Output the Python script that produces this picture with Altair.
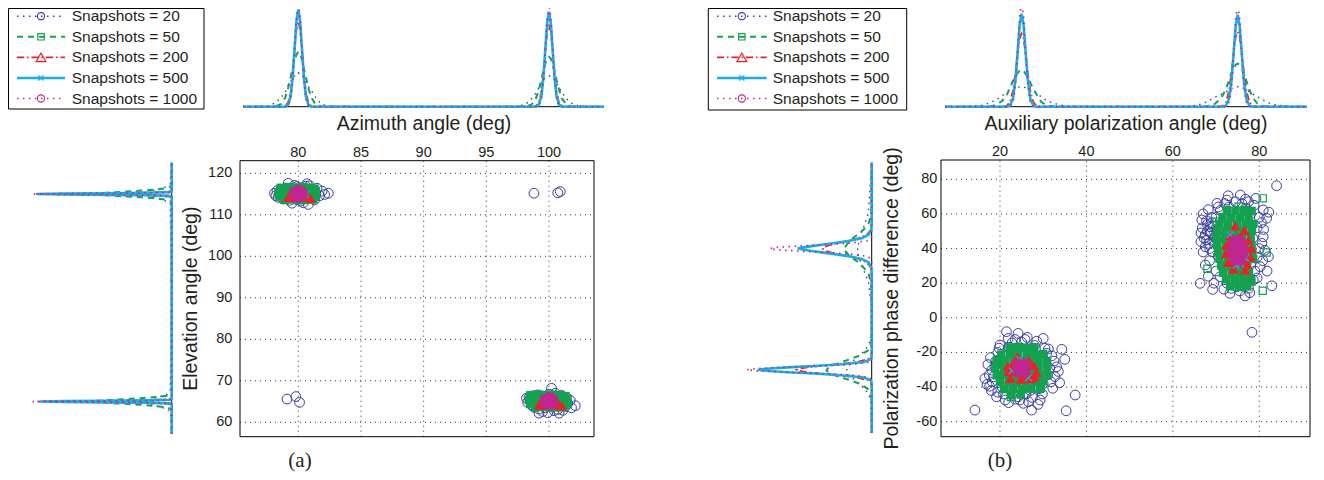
import altair as alt
import pandas as pd

# ---------------------------------------------------------------- data
SERIES = ["Snapshots = 20", "Snapshots = 50", "Snapshots = 200",
          "Snapshots = 500", "Snapshots = 1000"]

# (a) top marginal: azimuth angle grid and curve values (20, 50, 200, 500, 1000)
AZ_GRID = [75.59,
           77.6, 78.2, 78.6, 78.95, 79.2, 79.4, 79.55, 79.7, 79.85, 80.0,
           80.15, 80.3, 80.45, 80.6, 80.8, 81.05, 81.4, 81.8, 82.4,
           90.0,
           97.6, 98.2, 98.6, 98.95, 99.2, 99.4, 99.55, 99.7, 99.85, 100.0,
           100.15, 100.3, 100.45, 100.6, 100.8, 101.05, 101.4, 101.8, 102.4,
           104.39]
AZ_D20 = [0, 0.8, 4, 9, 14, 22, 25, 30, 30.5, 33, 34, 32, 31.5, 28, 26, 20, 16, 9, 3, 0.5,
          0, 0.5, 3, 8, 13.5, 19, 23, 27, 28.5, 30, 31, 30.5, 29, 27, 24, 19.5, 14, 8, 3.5, 0.7, 0]
AZ_D50 = [0, 0, 0.4, 2.5, 9, 19, 30, 39, 46, 52, 55, 53, 47, 38, 30, 19, 9, 2, 0.4, 0,
          0, 0, 0.4, 2, 8, 17, 27, 36, 43, 48, 50, 48, 42, 35, 27, 17, 8, 2, 0.4, 0, 0]
AZ_D200 = [0, 0, 0, 0, 0.5, 4.5, 16, 34, 56, 77, 85, 77, 56, 34, 16, 4.5, 0.5, 0, 0, 0,
           0, 0, 0, 0, 0.5, 4, 15, 32, 54, 74, 82, 74, 54, 32, 15, 4, 0.5, 0, 0, 0, 0]
AZ_D500 = [0, 0, 0, 0, 0.1, 2, 11, 29, 57, 85, 97, 85, 57, 29, 11, 2, 0.1, 0, 0, 0,
           0, 0, 0, 0, 0.1, 2, 11, 28, 56, 83, 95, 83, 56, 28, 11, 2, 0.1, 0, 0, 0, 0]
AZ_D1000 = [0, 0, 0, 0, 0, 1, 9, 26, 56, 89, 104, 89, 56, 26, 9, 1, 0, 0, 0, 0,
            0, 0, 0, 0, 0, 1, 9, 26, 55, 88, 105, 88, 55, 26, 9, 1, 0, 0, 0, 0, 0]

# (a) left marginal: elevation angle grid and curve values
EL_GRID = [57.18,
           62.6, 63.2, 63.6, 63.9, 64.2, 64.4, 64.55, 64.7, 64.8, 64.9, 65.0,
           65.1, 65.2, 65.3, 65.45, 65.6, 65.8, 66.1, 66.4, 66.8, 67.4,
           90.0,
           112.6, 113.2, 113.6, 113.9, 114.2, 114.4, 114.55, 114.7, 114.8, 114.9, 115.0,
           115.1, 115.2, 115.3, 115.45, 115.6, 115.8, 116.1, 116.4, 116.8, 117.4,
           122.55]
EL_D20 = [0, 1.2, 5.5, 10, 15, 20, 22, 23, 25, 25.5, 26, 26.5, 26, 25, 24, 23, 21, 18, 13, 9, 4.5, 1.5,
          0, 1.5, 4.5, 9, 13.5, 18.5, 21, 23.5, 24.5, 25, 25.5, 26, 26, 25.5, 25, 23.5, 22, 19.5, 14.5, 10, 5, 1.6, 0]
EL_D50 = [0, 0, 0.8, 5.5, 15, 31, 44, 56, 65, 70, 74, 75, 74, 71, 66, 58, 46, 31, 14, 5, 0.8, 0,
          0, 0, 0.8, 5, 14, 30, 45, 57, 66, 71, 74, 76, 74, 70, 65, 57, 45, 32, 15, 5.5, 0.9, 0, 0]
EL_D200 = [0, 0, 0, 0, 0, 0.2, 2.6, 13.5, 43, 73, 99, 110, 99, 73, 43, 13.5, 2.6, 0.2, 0, 0, 0, 0,
           0, 0, 0, 0, 0, 0.2, 2.6, 13.5, 43, 73, 99, 110, 99, 73, 43, 13.5, 2.6, 0.2, 0, 0, 0, 0, 0]
EL_D500 = [0, 0, 0, 0, 0, 0, 0.1, 2.4, 22, 60, 108, 132, 108, 60, 22, 2.4, 0.1, 0, 0, 0, 0, 0,
           0, 0, 0, 0, 0, 0, 0.1, 2.5, 23, 62, 111, 135, 111, 62, 23, 2.5, 0.1, 0, 0, 0, 0, 0, 0]
EL_D1000 = [0, 0, 0, 0, 0, 0, 0, 0.4, 10, 43, 103, 139, 103, 43, 10, 0.4, 0, 0, 0, 0, 0, 0,
            0, 0, 0, 0, 0, 0, 0, 0.4, 10, 43, 103, 139, 103, 43, 10, 0.4, 0, 0, 0, 0, 0, 0, 0]

# (b) top marginal: auxiliary polarization angle grid and curve values
AUX_GRID = [7.27,
            13, 16, 18, 19.5, 20.5, 21.5, 22.3, 23, 23.6, 24.1, 24.55, 25,
            25.45, 25.9, 26.4, 27, 27.7, 28.5, 29.5, 30.5, 32, 34, 37,
            50,
            63, 66, 68, 69.5, 70.5, 71.5, 72.3, 73, 73.6, 74.1, 74.55, 75,
            75.45, 75.9, 76.4, 77, 77.7, 78.5, 79.5, 80.5, 82, 84, 87,
            90.97]
AUX_D20 = [0, 0.2, 1.5, 4.5, 8, 11, 14, 16, 17, 19, 19, 20, 20, 19.5, 19, 18, 17, 16, 13, 10, 7, 4, 1.5, 0.2,
           0, 0.2, 1.8, 5, 9, 11, 13, 15, 17, 18, 19, 19.5, 20, 20, 19, 18.5, 17, 15, 12.5, 10, 7.5, 4, 1.5, 0.2, 0]
AUX_D50 = [0, 0, 0, 0.4, 2.5, 6, 11, 19, 26, 30, 34, 36, 37, 36, 33, 30, 24, 18, 12, 5, 2, 0.4, 0, 0,
           0, 0, 0, 0.5, 2, 6, 11, 18, 26, 34, 39, 42, 43, 42, 39, 34, 26, 17, 9, 3.4, 1, 0, 0, 0, 0]
AUX_D200 = [0, 0, 0, 0, 0, 0, 0.7, 4.6, 16, 35, 54, 68, 73, 68, 54, 35, 16, 4.6, 0.7, 0, 0, 0, 0, 0,
            0, 0, 0, 0, 0, 0, 0.7, 4.7, 16, 36, 55, 70, 75, 70, 55, 36, 16, 4.7, 0.7, 0, 0, 0, 0, 0, 0]
AUX_D500 = [0, 0, 0, 0, 0, 0, 0, 1, 8, 28, 56, 82, 93, 82, 56, 28, 8, 1, 0, 0, 0, 0, 0, 0,
            0, 0, 0, 0, 0, 0, 0, 1, 8, 27, 56, 81, 92, 81, 56, 27, 8, 1, 0, 0, 0, 0, 0, 0, 0]
AUX_D1000 = [0, 0, 0, 0, 0, 0, 0, 0.3, 4.6, 23, 56, 90, 105, 90, 56, 23, 4.6, 0.3, 0, 0, 0, 0, 0, 0,
             0, 0, 0, 0, 0, 0, 0, 0.3, 4.5, 22, 55, 88, 103, 88, 55, 22, 4.5, 0.3, 0, 0, 0, 0, 0, 0, 0]

# (b) left marginal: polarization phase difference grid and curve values
PH_GRID = [-66.53,
           -50, -45, -41, -38, -36, -34.5, -33.2, -32.2, -31.4, -30.7, -30,
           -29.3, -28.6, -27.8, -26.8, -25.5, -24, -22, -19, -15, -10,
           5,
           20, 25, 29, 32, 34, 35.5, 36.8, 37.8, 38.6, 39.3, 40,
           40.7, 41.4, 42.2, 43.2, 44.5, 46, 48, 51, 55, 60,
           89.59]
PH_D20 = [0, 0.4, 2.5, 7, 13, 17, 20, 22.5, 24, 24.5, 25, 25, 25, 24, 23.5, 22, 20, 17, 13, 7, 2.5, 0.4,
          0, 3, 6, 9.5, 11, 12, 13, 13.5, 14, 13.5, 14, 14, 13.5, 14, 13.5, 13, 13, 12, 11.5, 9, 6.5, 3.5, 0]
PH_D50 = [0, 0, 0.5, 4, 12.5, 22, 30, 37, 41, 43, 45, 45, 44, 43, 40, 36, 30, 22, 13, 4, 0.5, 0,
          0, 0.5, 3, 8, 13, 18, 21, 24, 25, 27, 26, 27, 27, 26, 25, 24, 22, 19, 14, 8, 2.7, 0.5, 0]
PH_D200 = [0, 0, 0, 0, 0.5, 4, 15, 33, 51, 64, 72, 75, 72, 64, 51, 33, 15, 4, 0.5, 0, 0, 0,
           0, 0, 0, 0.6, 5, 13, 23, 34, 41, 46, 48, 49, 48, 45, 41, 33, 23, 13, 4.8, 0.6, 0, 0, 0]
PH_D500 = [0, 0, 0, 0, 0, 1, 8, 30, 58, 84, 102, 114, 102, 84, 58, 30, 8, 1, 0, 0, 0, 0,
           0, 0, 0, 0.5, 3, 10, 22, 37, 50, 60, 68, 74, 68, 60, 50, 37, 22, 10, 3, 0.5, 0, 0, 0]
PH_D1000 = [0, 0, 0, 0, 0, 0, 2.4, 17, 49, 85, 114, 125, 114, 85, 49, 17, 2.4, 0, 0, 0, 0, 0,
            0, 0, 0, 0, 0, 0.4, 4.5, 21, 48, 75, 95, 102, 95, 75, 48, 21, 4.5, 0.4, 0, 0, 0, 0, 0]

# (a) scatter: (azimuth, elevation) estimates
A_BLUE = [(78.1, 115.2), (78.2, 114.6), (78.3, 115.8), (78.4, 114.2), (78.5, 115.4), (78.6, 116.0),
          (78.7, 114.8), (78.8, 113.8), (78.9, 115.6), (79.0, 116.4), (79.1, 114.3), (79.2, 115.0),
          (79.3, 113.5), (79.4, 116.2), (79.5, 114.7), (79.6, 115.9), (79.8, 113.7), (79.9, 116.8),
          (80.0, 114.3), (80.1, 115.7), (80.2, 113.3), (80.3, 116.5), (80.5, 114.9), (80.6, 116.9),
          (80.7, 113.9), (80.8, 115.5), (80.9, 117.0), (81.0, 114.4), (81.1, 116.1), (81.3, 113.6),
          (81.4, 115.1), (81.5, 116.4), (81.7, 114.6), (81.9, 115.7), (82.1, 114.9), (82.4, 115.2),
          (80.4, 112.9), (79.7, 117.1), (79.2, 117.6), (80.7, 117.5), (80.8, 112.5), (79.5, 112.8),
          (98.8, 115.2), (100.7, 115.3), (100.9, 115.6),
          (79.1, 65.6), (79.8, 66.2), (80.1, 64.8),
          (98.2, 65.8), (98.3, 64.8), (98.4, 66.0), (98.5, 65.2), (98.6, 64.2), (98.7, 66.4),
          (98.8, 63.6), (98.9, 65.5), (99.0, 64.6), (99.1, 66.6), (99.2, 63.2), (99.3, 65.9),
          (99.4, 64.0), (99.5, 62.6), (99.6, 66.2), (99.7, 63.5), (99.8, 65.0), (99.9, 62.3),
          (100.0, 66.8), (100.2, 68.2), (100.2, 63.7), (100.3, 65.8), (100.4, 62.8), (100.5, 64.4),
          (100.6, 66.3), (100.7, 63.1), (100.8, 65.4), (100.9, 64.1), (101.0, 66.5), (101.1, 62.9),
          (101.2, 65.1), (101.3, 63.8), (101.4, 66.0), (101.5, 64.5), (101.7, 65.3), (101.8, 63.5),
          (102.1, 64.0), (99.2, 62.2), (100.8, 62.2), (100.5, 67.0)]
A_GREEN = [(78.6, 116.5), (79.2, 116.7), (79.8, 116.6), (80.4, 116.7), (81.0, 116.5), (81.3, 116.3),
           (78.4, 115.4), (79.0, 115.6), (79.6, 115.5), (80.2, 115.4), (80.8, 115.6), (81.4, 115.5),
           (78.5, 114.4), (79.1, 114.3), (79.7, 114.5), (80.3, 114.4), (80.9, 114.3), (81.4, 114.5),
           (78.9, 113.6), (79.5, 113.7), (80.1, 113.5), (80.7, 113.6), (81.2, 113.7),
           (98.5, 66.5), (99.1, 66.7), (99.7, 66.6), (100.3, 66.7), (100.9, 66.5), (101.3, 66.3),
           (98.4, 65.4), (99.0, 65.6), (99.6, 65.5), (100.2, 65.4), (100.8, 65.6), (101.4, 65.5),
           (98.5, 64.4), (99.1, 64.3), (99.7, 64.5), (100.3, 64.4), (100.9, 64.3), (101.5, 64.5),
           (98.9, 63.6), (99.5, 63.7), (100.1, 63.5), (100.7, 63.6), (101.2, 63.7)]
A_RED = [(79.9, 116.3), (80.3, 116.2), (79.4, 115.2), (80.0, 115.3), (80.6, 115.1), (79.2, 114.2),
         (79.8, 114.1), (80.4, 114.2), (81.0, 114.0),
         (99.9, 66.3), (100.3, 66.2), (99.4, 65.2), (100.0, 65.3), (100.6, 65.1), (99.2, 64.2),
         (99.8, 64.1), (100.4, 64.2), (101.0, 64.0)]
A_CYAN = [(80.1, 114.4), (80.6, 115.0), (100.2, 64.4), (99.6, 65.1)]
A_MAG = [(79.65, 115.6), (80.35, 115.6), (79.65, 114.5), (80.35, 114.5), (80.0, 115.0), (80.0, 116.1),
         (80.0, 114.0),
         (99.65, 65.6), (100.35, 65.6), (99.65, 64.5), (100.35, 64.5), (100.0, 65.0), (100.0, 66.1),
         (100.0, 64.0)]

# (b) scatter: (auxiliary polarization angle, polarization phase difference) estimates
B_BLUE = [(14.2, -53.3), (17.0, -38.5), (17.6, -39.5), (19.2, -45.6), (21.2, -47.5), (18.1, -30.2),
          (20.0, -15.7), (21.5, -8.0), (24.2, -9.0), (26.3, -11.3), (30.0, -11.9), (30.4, -17.6),
          (30.8, -20.5), (34.3, -18.2), (33.1, -28.3), (32.7, -34.0), (32.2, -40.7), (29.3, -47.5),
          (27.3, -53.3), (25.4, -49.4), (24.2, -45.6), (37.4, -44.6), (35.3, -53.7), (21.9, -11.9),
          (24.6, -47.5), (26.6, -48.5), (19.0, -25), (18.5, -34), (19.5, -20), (20.5, -40), (22, -17),
          (23, -43), (25, -14), (26, -44), (28, -16), (29, -41), (30.5, -25), (31, -33), (31.5, -29),
          (20, -30), (27.5, -20), (22.5, -38), (29, -36), (21, -22), (24, -18), (27, -42), (18.8, -28),
          (30, -38), (32, -22), (23.5, -12.5), (28.5, -13.5), (26.5, -39), (19.5, -43), (17.5, -33),
          (17.8, -23), (18.2, -37), (19.8, -17.5), (20.8, -44), (22.8, -14.5), (25.8, -12.5),
          (27.5, -46), (29.8, -44), (31.8, -37), (32.5, -25), (31.2, -18), (33.5, -31), (16.5, -35),
          (18.0, -42), (22.0, -49), (28.8, -50), (23.5, -47), (33.8, -37.5), (17.2, -27), (35.0, -24),
          (84.0, 76.3), (75.6, 70.9), (72.5, 68.0), (66.7, 56.5), (66.3, 19.9), (69.2, 16.4),
          (73.2, 14.1), (76.7, 12.6), (78.3, -8.4), (82.9, 18.5), (81.7, 57.5), (80.9, 62.3),
          (77.5, 67.1), (70.2, 66.1), (82.1, 35.3), (80.2, 29.5), (80.9, 46.8), (67.5, 30.5),
          (67.8, 45.0), (68.6, 52.6), (70.9, 23.7), (74.8, 18.0), (78.6, 21.8),
          (68, 50), (69, 55), (67.5, 48), (69.5, 44), (70, 58), (68.5, 40), (70.5, 36), (71, 62),
          (72, 26), (73, 64), (74, 21), (76, 24), (77, 63), (78, 60), (79, 27), (79.5, 52), (80, 40),
          (79.5, 35), (71.5, 32), (70.2, 48), (72.5, 57), (78.5, 46), (73.5, 17), (77.5, 17), (76, 66),
          (74, 61), (80.5, 55), (71, 42), (69.2, 38), (78, 31), (75, 20), (76.5, 59),
          (66.8, 52), (67.2, 46), (67.8, 56), (68.3, 43), (68.8, 49), (69.3, 53), (69.8, 46),
          (70.3, 51), (67.5, 41), (68, 54), (69, 58), (66.5, 49), (70.8, 43), (71.5, 55), (71, 48),
          (67, 60), (68.2, 62.5), (70.5, 64), (72, 66), (74.5, 67), (76.8, 68.5), (78.8, 65),
          (80, 58), (81, 51), (80.6, 43), (81.3, 39), (80.8, 33), (79.5, 23), (77, 20), (72.5, 20),
          (70, 27), (68.5, 33), (67, 38), (66.5, 44), (72.8, 70.5), (79.2, 69), (82.2, 61),
          (69.5, 20), (77.8, 14.5), (81.8, 27), (68.2, 24), (75.5, 15.5), (71.8, 16.5)]
B_GREEN_OUT = [(80.8, 69.0), (81.7, 37.7), (80.8, 15.6), (68.0, 28.3), (70.1, 55.5), (75.2, 64.2),
               (77.1, 61.3), (78.2, 20.9), (29.5, -40.5), (22.5, -45.8), (19.5, -24.0), (30.5, -27.0)]
B_GREEN = [(22.2, -17.2), (24.1, -16.8), (26.0, -17.4), (27.9, -17.0),
           (20.3, -21.3), (22.3, -20.8), (24.2, -21.1), (26.2, -20.7), (28.1, -21.4), (30.0, -20.9),
           (19.2, -25.2), (21.1, -24.7), (23.1, -25.3), (25.0, -24.9), (27.0, -25.1), (28.9, -24.6), (30.9, -25.4),
           (18.9, -29.1), (20.9, -28.8), (22.9, -29.3), (24.9, -28.9), (26.9, -29.2), (28.8, -28.7), (30.8, -29.4),
           (19.3, -33.2), (21.2, -32.7), (23.2, -33.3), (25.2, -32.9), (27.2, -33.1), (29.1, -32.8), (31.0, -33.3),
           (20.0, -37.1), (22.0, -36.8), (24.0, -37.3), (26.0, -36.9), (28.0, -37.2), (30.0, -36.7),
           (21.0, -41.2), (23.0, -40.8), (25.0, -41.3), (27.0, -40.9), (29.2, -41.1),
           (22.6, -44.6), (24.8, -44.3),
           (72.5, 62.2), (74.5, 61.8), (76.5, 62.3), (78.2, 61.7),
           (71.5, 58.1), (73.5, 57.8), (75.5, 58.3), (77.5, 57.9),
           (70.8, 54.2), (72.8, 53.8), (74.8, 54.1), (76.8, 53.7), (78.6, 54.3),
           (70.3, 50.1), (72.3, 49.8), (74.3, 50.3), (76.3, 49.9), (78.3, 50.2),
           (70.0, 46.2), (72.0, 45.7), (74.0, 46.1), (76.0, 45.8), (78.0, 46.3),
           (70.2, 42.1), (72.2, 41.8), (74.2, 42.2), (76.2, 41.7), (78.2, 42.0),
           (70.5, 38.2), (72.5, 37.7), (74.5, 38.1), (76.5, 37.8), (78.4, 38.3),
           (70.8, 34.1), (72.8, 33.8), (74.8, 34.3), (76.8, 33.9), (78.6, 34.0),
           (71.2, 30.2), (73.2, 29.8), (75.2, 30.1), (77.2, 29.7),
           (71.6, 26.1), (73.6, 25.8), (75.6, 26.3), (77.6, 25.9),
           (72.3, 22.2), (74.3, 21.8), (76.3, 22.1), (78.0, 21.7),
           (73.3, 18.2), (75.3, 17.8), (77.2, 18.1)]
B_RED = [(24.0, -22.5), (26.6, -24.5), (23.0, -26.5), (25.3, -27.0), (27.8, -27.5), (22.0, -31.0),
         (24.3, -31.5), (26.3, -31.0), (28.4, -31.5), (22.4, -35.0), (24.8, -35.5), (27.2, -35.2),
         (25.5, -33.5), (23.5, -29.5), (21.8, -28.0), (28.0, -34.0),
         (74.4, 53.0), (76.6, 50.5), (73.3, 47.5), (75.2, 46.5), (77.5, 45.0), (72.4, 42.0),
         (74.6, 42.0), (76.6, 41.5), (78.2, 40.0), (72.3, 37.0), (74.4, 37.0), (76.4, 36.5),
         (78.0, 35.0), (72.8, 32.0), (75.0, 31.5), (77.2, 31.0), (74.0, 28.0), (76.7, 27.5),
         (73.5, 44.5), (75.5, 34.0)]
B_CYAN = [(24.5, -24.0), (26.6, -34.6), (22.8, -30.5), (75.7, 31.0), (74.6, 30.3), (76.8, 34.5),
          (73.2, 48.0)]
B_MAG = [(24.2, -26.5), (25.8, -26.5), (23.9, -29.2), (25.0, -29.2), (26.1, -29.2), (24.2, -31.8),
         (25.8, -31.8), (25.0, -27.5), (25.0, -31.0),
         (74.3, 44.8), (75.7, 44.8), (73.7, 41.0), (75.0, 41.0), (76.3, 41.0), (73.7, 37.0),
         (75.0, 37.0), (76.3, 37.0), (74.3, 33.0), (75.7, 33.0), (75.0, 43.0), (75.0, 35.0)]

A_XTICKS = [80, 85, 90, 95, 100]
A_YTICKS = [60, 70, 80, 90, 100, 110, 120]
B_XTICKS = [20, 40, 60, 80]
B_YTICKS = [-60, -40, -20, 0, 20, 40, 60, 80]

# ---------------------------------------------------------------- style
COLORS = ["#3a3d9f", "#13a24f", "#ec2128", "#1aaee6", "#c0268f"]
DASHES = [[1.5, 4.5], [6, 5], [7, 3, 1.5, 3], None, [1.5, 4.5]]
WIDTHS = [1.4, 2.0, 1.8, 2.6, 1.7]
XPATH = "M-1,-1L1,1M-1,1L1,-1"
FONT = "Liberation Sans"
TXT = "#231f20"


def qs(dom, rng):
    return alt.Scale(domain=list(dom), range=list(rng), nice=False, zero=False)


def line_kw(i):
    kw = dict(color=COLORS[i], strokeWidth=WIDTHS[i])
    if DASHES[i] is not None:
        kw["strokeDash"] = DASHES[i]
    return kw


def title_text(label, x, y, angle=0):
    kw = dict(font=FONT, fontSize=19.5, color=TXT, align="center", baseline="alphabetic")
    if angle:
        kw["angle"] = angle
    return alt.Chart(pd.DataFrame({"c": [label]})).mark_text(**kw).encode(
        x=alt.value(x), y=alt.value(y), text="c:N")


def top_marginal(grid, dens, xdom, xr, base_y, title, title_x):
    sx = qs(xdom, xr)
    sy = qs([0, 100], [base_y, base_y - 100])
    base = pd.DataFrame({"v": [0], "lo": [xdom[0]], "hi": [xdom[1]]})
    layers = [alt.Chart(base).mark_rule(color="#000", strokeWidth=1).encode(
        x=alt.X("lo:Q", scale=sx, axis=None), x2="hi:Q", y=alt.Y("v:Q", scale=sy, axis=None))]
    for i, vals in enumerate(dens):
        df = pd.DataFrame({"a": grid, "v": vals})
        layers.append(alt.Chart(df).mark_line(**line_kw(i)).encode(
            x=alt.X("a:Q", scale=sx, axis=None),
            y=alt.Y("v:Q", scale=sy, axis=None)))
    layers.append(title_text(title, title_x, base_y + 23.5))
    return alt.layer(*layers)


def left_marginal(grid, dens, ydom, yr, base_x):
    sy = qs(ydom, yr)
    sx = qs([0, 140], [base_x, base_x - 140])
    base = pd.DataFrame({"v": [0], "lo": [ydom[0]], "hi": [ydom[1]]})
    layers = [alt.Chart(base).mark_rule(color="#000", strokeWidth=1).encode(
        x=alt.X("v:Q", scale=sx, axis=None), y=alt.Y("lo:Q", scale=sy, axis=None), y2="hi:Q")]
    for i, vals in enumerate(dens):
        df = pd.DataFrame({"a": grid, "v": vals})
        layers.append(alt.Chart(df).mark_line(**line_kw(i)).encode(
            x=alt.X("v:Q", scale=sx, axis=None),
            y=alt.Y("a:Q", scale=sy, axis=None),
            order=alt.Order("a:Q")))
    return alt.layer(*layers)


def scatter(xdom, xr, ydom, yr, xticks, yticks, ytitle, ylab_x, ytitle_x, groups):
    sx = qs(xdom, xr)
    sy = qs(ydom, yr)
    top = min(yr)
    gstyle = dict(color="#333333", strokeDash=[1, 4], strokeWidth=1)
    vgrid = pd.DataFrame({"t": xticks, "lo": [ydom[0]] * len(xticks), "hi": [ydom[1]] * len(xticks)})
    hgrid = pd.DataFrame({"t": yticks, "lo": [xdom[0]] * len(yticks), "hi": [xdom[1]] * len(yticks)})
    g1 = alt.Chart(vgrid).mark_rule(**gstyle).encode(
        x=alt.X("t:Q", scale=sx, axis=None), y=alt.Y("lo:Q", scale=sy, axis=None), y2="hi:Q")
    g2 = alt.Chart(hgrid).mark_rule(**gstyle).encode(
        y=alt.Y("t:Q", scale=sy, axis=None), x=alt.X("lo:Q", scale=sx, axis=None), x2="hi:Q")
    fdf = pd.DataFrame({"x0": [xdom[0]], "x1": [xdom[1]], "y0": [ydom[0]], "y1": [ydom[1]]})
    frame = alt.Chart(fdf).mark_rect(fillOpacity=0, stroke="#000", strokeWidth=1).encode(
        x=alt.X("x0:Q", scale=sx, axis=None), x2="x1:Q",
        y=alt.Y("y0:Q", scale=sy, axis=None), y2="y1:Q")
    xl = pd.DataFrame({"t": xticks, "lab": [str(t) for t in xticks]})
    yl = pd.DataFrame({"t": yticks, "lab": [str(t) for t in yticks]})
    xlab = alt.Chart(xl).mark_text(font=FONT, fontSize=14.5, color=TXT, align="center",
                                   baseline="alphabetic").encode(
        x=alt.X("t:Q", scale=sx, axis=None), y=alt.value(top - 4), text="lab:N")
    ylab = alt.Chart(yl).mark_text(font=FONT, fontSize=14.5, color=TXT, align="right",
                                   baseline="middle").encode(
        x=alt.value(ylab_x), y=alt.Y("t:Q", scale=sy, axis=None), text="lab:N")
    layers = [g1, g2, frame, xlab, ylab,
              title_text(ytitle, ytitle_x, (yr[0] + yr[1]) / 2, angle=270)]
    for pts, mk in groups:
        df = pd.DataFrame(pts, columns=["px", "py"])
        layers.append(alt.Chart(df).mark_point(opacity=1, **mk).encode(
            x=alt.X("px:Q", scale=sx, axis=None), y=alt.Y("py:Q", scale=sy, axis=None)))
    return alt.layer(*layers)


LEG_MARK = [dict(shape="circle", size=52, filled=False, strokeWidth=1.1),
            dict(shape="square", size=42, filled=False, strokeWidth=1.2),
            dict(shape="triangle-up", size=95, filled=False, strokeWidth=1.2),
            dict(shape=XPATH, size=26, filled=False, strokeWidth=1.4),
            dict(shape="circle", size=52, filled=False, strokeWidth=1.1)]


def legend(box, rows, xr, text_dx):
    sx = qs([0, 1], xr)
    sy = qs([0, 4], rows)
    layers = [alt.Chart(pd.DataFrame({"k": [0]})).mark_rect(
        fill="white", stroke="#000", strokeWidth=1).encode(
        x=alt.value(box[0]), x2=alt.value(box[1]), y=alt.value(box[2]), y2=alt.value(box[3]))]
    for i in range(5):
        df = pd.DataFrame({"r": [i], "x0": [0.0], "x1": [1.0], "xm": [0.5]})
        layers.append(alt.Chart(df).mark_rule(**line_kw(i)).encode(
            x=alt.X("x0:Q", scale=sx, axis=None), x2="x1:Q",
            y=alt.Y("r:Q", scale=sy, axis=None)))
        layers.append(alt.Chart(df).mark_point(color=COLORS[i], opacity=1, **LEG_MARK[i]).encode(
            x=alt.X("xm:Q", scale=sx, axis=None), y=alt.Y("r:Q", scale=sy, axis=None)))
    tdf = pd.DataFrame({"s": SERIES, "r": list(range(5)), "x1": [1.0] * 5})
    layers.append(alt.Chart(tdf).mark_text(align="left", baseline="middle", dx=text_dx, font=FONT,
                                           fontSize=15.5, color=TXT).encode(
        x=alt.X("x1:Q", scale=sx, axis=None), y=alt.Y("r:Q", scale=sy, axis=None), text="s:N"))
    return alt.layer(*layers)


def groups(blue, green_out, green, red, cyan, mag):
    g = [(blue, dict(shape="circle", size=95, filled=False, color=COLORS[0], strokeWidth=1.0))]
    if green_out:
        g.append((green_out, dict(shape="square", size=52, filled=False, color=COLORS[1], strokeWidth=1.2)))
    g += [(green, dict(shape="square", size=72, filled=True, color=COLORS[1])),
          (red, dict(shape="triangle-up", size=110, filled=True, color=COLORS[2])),
          (cyan, dict(shape=XPATH, size=40, filled=False, color=COLORS[3], strokeWidth=1.3)),
          (mag, dict(shape="circle", size=95, filled=True, color=COLORS[4]))]
    return g


# ---------------------------------------------------------------- panels
legA = legend([0.5, 196, 0.5, 101], [8.2, 90.5], [9, 57], 6.7)
legB = legend([700.3, 898.7, 0.5, 102], [8.2, 90.5], [709, 758.7], 6)

topA = top_marginal(AZ_GRID, [AZ_D20, AZ_D50, AZ_D200, AZ_D500, AZ_D1000],
                    [75.59, 104.39], [235, 596], 98.7, "Azimuth angle (deg)", 416)
topB = top_marginal(AUX_GRID, [AUX_D20, AUX_D50, AUX_D200, AUX_D500, AUX_D1000],
                    [7.27, 90.97], [937, 1298.7], 98.7, "Auxiliary polarization angle (deg)", 1118)

leftA = left_marginal(EL_GRID, [EL_D20, EL_D50, EL_D200, EL_D500, EL_D1000],
                      [57.18, 122.55], [426, 154.7], 163.7)
leftB = left_marginal(PH_GRID, [PH_D20, PH_D50, PH_D200, PH_D500, PH_D1000],
                      [-66.53, 89.59], [425, 154.7], 863.7)

scA = scatter([75.35, 103.59], [232, 586], [56.53, 123.04], [428.7, 152.7],
              A_XTICKS, A_YTICKS, "Elevation angle (deg)", 224.3, 188.5,
              groups(A_BLUE, None, A_GREEN, A_RED, A_CYAN, A_MAG))
scB = scatter([6.35, 91.73], [933, 1302], [-68.67, 91.15], [428.7, 152],
              B_XTICKS, B_YTICKS, "Polarization phase difference (deg)", 929.3, 889.5,
              groups(B_BLUE, B_GREEN_OUT, B_GREEN, B_RED, B_CYAN, B_MAG))

caps = alt.layer(
    alt.Chart(pd.DataFrame({"c": ["(a)"]})).mark_text(
        font="Liberation Serif", fontSize=21, color=TXT, align="center",
        baseline="alphabetic").encode(x=alt.value(292), y=alt.value(458.5), text="c:N"),
    alt.Chart(pd.DataFrame({"c": ["(b)"]})).mark_text(
        font="Liberation Serif", fontSize=21, color=TXT, align="center",
        baseline="alphabetic").encode(x=alt.value(992), y=alt.value(458.5), text="c:N"))

chart = alt.layer(legA, topA, leftA, scA, legB, topB, leftB, scB, caps).resolve_scale(
    x="independent", y="independent").properties(
    width=1308, height=464, padding=0, autosize="none", background="white"
).configure_view(strokeOpacity=0)

chart.save("out.html", embed_options={"renderer": "svg", "actions": False})
